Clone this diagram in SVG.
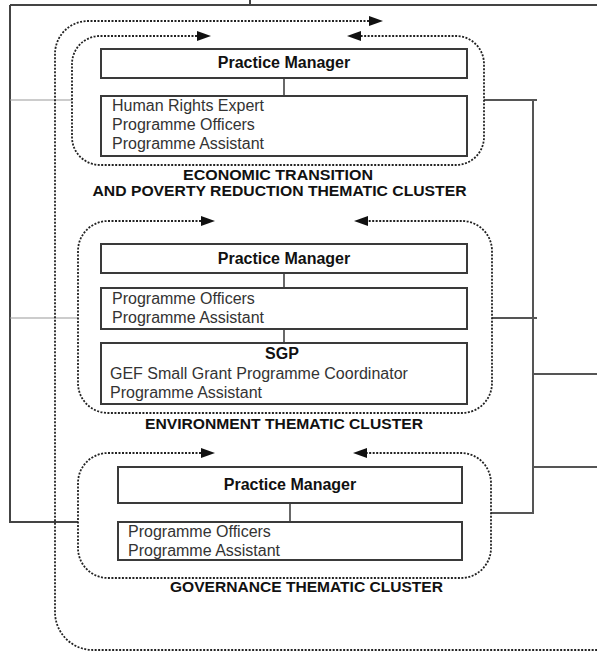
<svg xmlns="http://www.w3.org/2000/svg" width="597" height="652" viewBox="0 0 597 652">
<style>
.box{fill:#fff;stroke:#3a3a3a;stroke-width:2}
.dot{fill:none;stroke:#222;stroke-width:1.8;stroke-dasharray:2 1.5}
.ln{fill:none;stroke:#444;stroke-width:1.6}
.thin{fill:none;stroke:#999;stroke-width:1}
.ah{fill:#111}
.t{font-family:"Liberation Sans",Arial,sans-serif;font-size:16px;fill:#333}
.b{font-family:"Liberation Sans",Arial,sans-serif;font-size:16px;font-weight:bold;fill:#111}
.h{font-family:"Liberation Sans",Arial,sans-serif;font-size:14.5px;font-weight:bold;fill:#111}
</style>
<rect width="597" height="652" fill="#fff"/>
<g id="connectors">
<path class="ln" d="M250,0 V5 M10,5 H597 M10,5 V522 H78" style="stroke-width:2"/>
<path class="thin" d="M10,100 H72 M10,318 H78"/>
<path class="ln" d="M484,100 H537 M533,100 V513 H491 M492,318 H537 M533,374 H597 M533,467 H597" style="stroke:#555;stroke-width:2"/>
<path class="ln" d="M284,78 V96 M284,273 V288 M284,329 V343 M290,503 V522"/>
<path class="dot" d="M369,21 H88 A33 33 0 0 0 55,54 V612 A38 38 0 0 0 93,650 H597"/>
<polygon class="ah" points="383,21 369,16 369,26"/>
</g>
<g id="cluster-economic">
<path class="dot" d="M197,36 H100 A28 28 0 0 0 72,64 V137 A28 28 0 0 0 100,165 H456 A28 28 0 0 0 484,137 V64 A28 28 0 0 0 456,36 H361"/>
<polygon class="ah" points="211,36 197,31 197,41"/>
<polygon class="ah" points="347,36 361,31 361,41"/>
<text class="h" x="278" y="180" text-anchor="middle" textLength="190" lengthAdjust="spacingAndGlyphs">ECONOMIC TRANSITION</text>
<text class="h" x="279.5" y="196" text-anchor="middle" textLength="374" lengthAdjust="spacingAndGlyphs">AND POVERTY REDUCTION THEMATIC CLUSTER</text>
</g>
<g id="pm1">
<rect class="box" x="101" y="49" width="366" height="29"/>
<text class="b" x="284" y="68" text-anchor="middle">Practice Manager</text>
</g>
<g id="staff1">
<rect class="box" x="101" y="96" width="366" height="60"/>
<text class="t" x="112" y="111">Human Rights Expert</text>
<text class="t" x="112" y="130">Programme Officers</text>
<text class="t" x="112" y="149">Programme Assistant</text>
</g>
<g id="cluster-environment">
<path class="dot" d="M201,221 H108 A30 30 0 0 0 78,251 V383 A30 30 0 0 0 108,413 H462 A30 30 0 0 0 492,383 V251 A30 30 0 0 0 462,221 H368"/>
<polygon class="ah" points="215,221 201,216 201,226"/>
<polygon class="ah" points="354,221 368,216 368,226"/>
<text class="h" x="284" y="429" text-anchor="middle" textLength="278" lengthAdjust="spacingAndGlyphs">ENVIRONMENT THEMATIC CLUSTER</text>
</g>
<g id="pm2">
<rect class="box" x="101" y="244" width="366" height="29"/>
<text class="b" x="284" y="264" text-anchor="middle">Practice Manager</text>
</g>
<g id="staff2">
<rect class="box" x="101" y="288" width="366" height="41"/>
<text class="t" x="112" y="304">Programme Officers</text>
<text class="t" x="112" y="323">Programme Assistant</text>
</g>
<g id="sgp">
<rect class="box" x="101" y="343" width="366" height="61"/>
<text class="b" x="282" y="359" text-anchor="middle">SGP</text>
<text class="t" x="110" y="379">GEF Small Grant Programme Coordinator</text>
<text class="t" x="110" y="398">Programme Assistant</text>
</g>
<g id="cluster-governance">
<path class="dot" d="M201,453 H108 A30 30 0 0 0 78,483 V548 A30 30 0 0 0 108,578 H461 A30 30 0 0 0 491,548 V483 A30 30 0 0 0 461,453 H367"/>
<polygon class="ah" points="215,453 201,448 201,458"/>
<polygon class="ah" points="353,453 367,448 367,458"/>
<text class="h" x="306.5" y="592" text-anchor="middle" textLength="273" lengthAdjust="spacingAndGlyphs">GOVERNANCE THEMATIC CLUSTER</text>
</g>
<g id="pm3">
<rect class="box" x="118" y="467" width="344" height="36"/>
<text class="b" x="290" y="490" text-anchor="middle">Practice Manager</text>
</g>
<g id="staff3">
<rect class="box" x="118" y="522" width="344" height="38"/>
<text class="t" x="128" y="537">Programme Officers</text>
<text class="t" x="128" y="556">Programme Assistant</text>
</g>
</svg>
